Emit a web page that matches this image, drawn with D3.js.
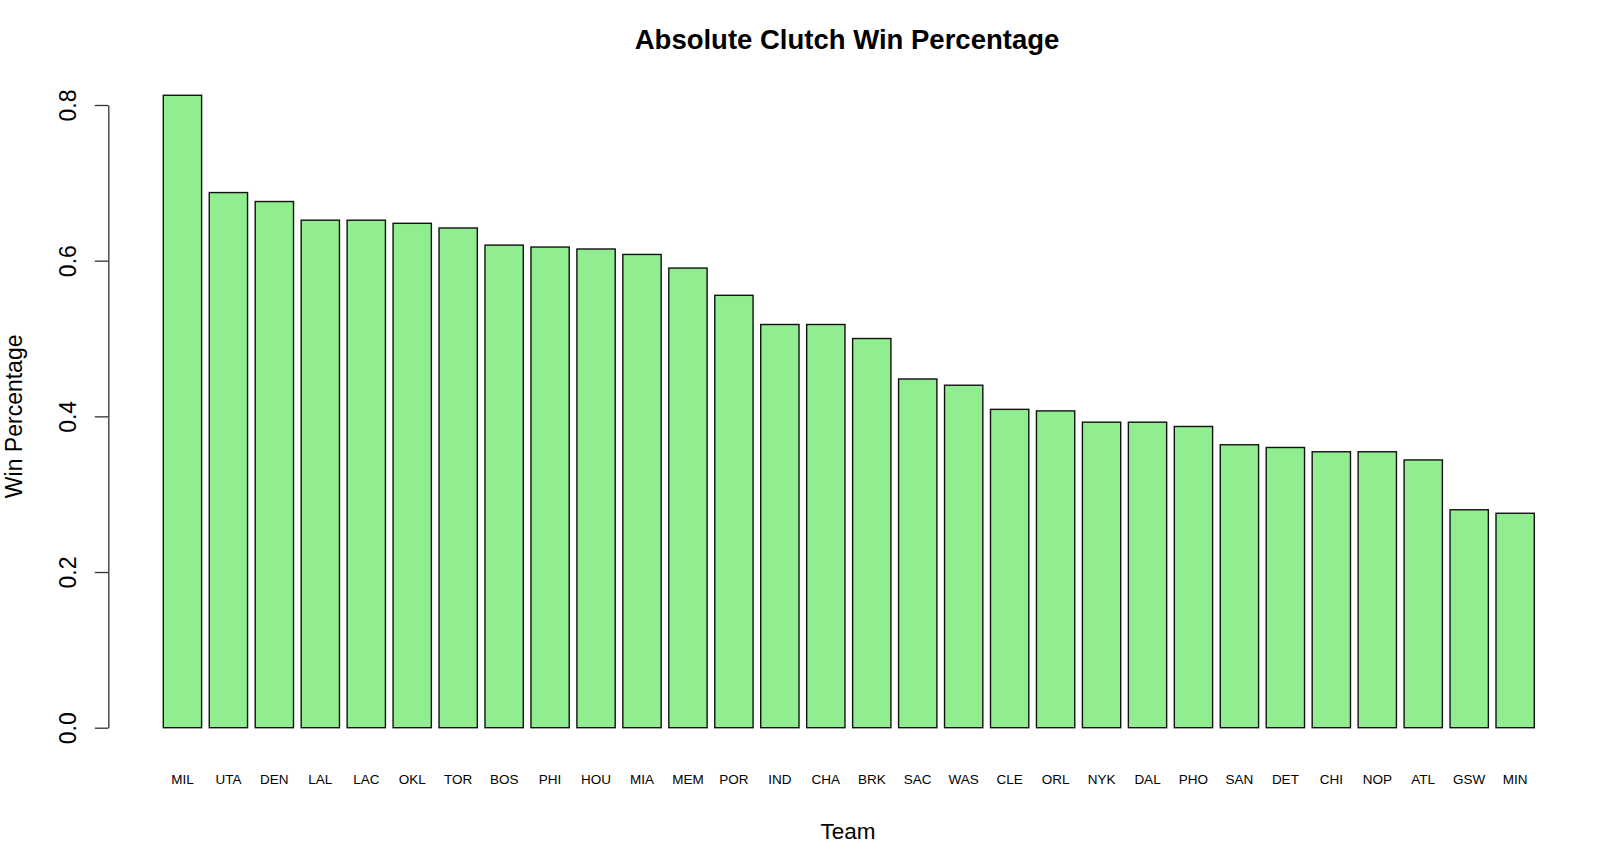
<!DOCTYPE html>
<html>
<head>
    <meta charset="utf-8" />
    <title>Absolute Clutch Win Percentage</title>
    <style>
        body { margin: 0; background: #fff; }
        svg text { font-family: "Liberation Sans", Arial, sans-serif; fill: #000; }
    </style>
</head>
<body>
    <script src="https://cdn.jsdelivr.net/npm/d3@7"></script>
    <script>
        let teams = ['MIL', 'UTA', 'DEN', 'LAL', 'LAC', 'OKL', 'TOR', 'BOS', 'PHI', 'HOU',
                     'MIA', 'MEM', 'POR', 'IND', 'CHA', 'BRK', 'SAC', 'WAS', 'CLE', 'ORL',
                     'NYK', 'DAL', 'PHO', 'SAN', 'DET', 'CHI', 'NOP', 'ATL', 'GSW', 'MIN']

        let winPct = [0.8125, 0.6875, 0.676, 0.652, 0.652, 0.648, 0.642, 0.620, 0.6175, 0.615,
                      0.608, 0.5905, 0.5555, 0.518, 0.518, 0.500, 0.448, 0.440, 0.409, 0.407,
                      0.3925, 0.3925, 0.387, 0.3635, 0.360, 0.3545, 0.3545, 0.344, 0.280, 0.2755]

        let yTicks = [0.0, 0.2, 0.4, 0.6, 0.8]

        let width = 1600,
            height = 862

        let svg = d3.select('body')
                    .append('svg')
                    .attr('width', width)
                    .attr('height', height)

        let x = d3.scaleBand()
                    .domain(teams)
                    .range([163.3, 1534.3])
                    .paddingInner(1 / 6)
                    .paddingOuter(0)

        let y = d3.scaleLinear()
                    .domain([0, 0.8])
                    .range([727.7, 105])

        // bars
        svg.append('g')
            .selectAll('rect')
            .data(teams)
            .enter()
                .append('rect')
                .attr('x', function (d) { return x(d) })
                .attr('width', x.bandwidth())
                .attr('y', function (d, i) { return y(winPct[i]) })
                .attr('height', function (d, i) { return y(0) - y(winPct[i]) })
                .style('fill', '#90ee90')
                .style('stroke', '#111')
                .style('stroke-width', 1.4)

        // y axis
        let yAxis = d3.axisLeft(y)
                        .tickValues(yTicks)
                        .tickFormat(d3.format('.1f'))
                        .tickSize(13.5)
                        .tickSizeOuter(0)

        let yG = svg.append('g')
                    .attr('transform', 'translate(108.3, 0)')
                    .call(yAxis)

        yG.select('.domain').attr('stroke', '#333').attr('stroke-width', 1.3)
        yG.selectAll('.tick line').attr('stroke', '#333').attr('stroke-width', 1.3)
        yG.selectAll('.tick text')
            .attr('x', null)
            .attr('transform', 'translate(-40.5, 0) rotate(-90)')
            .attr('text-anchor', 'middle')
            .attr('dy', '0.355em')
            .style('font-size', '23px')
            .style('font-family', '"Liberation Sans", Arial, sans-serif')

        // x labels (no axis line, like barplot names)
        svg.append('g')
            .selectAll('text.team')
            .data(teams)
            .enter()
                .append('text')
                .classed('team', true)
                .attr('x', function (d) { return x(d) + x.bandwidth() / 2 })
                .attr('y', 784)
                .attr('text-anchor', 'middle')
                .style('font-size', '13.5px')
                .text(function (d) { return d })

        // title and axis titles
        svg.append('text')
            .attr('x', 847)
            .attr('y', 49)
            .attr('text-anchor', 'middle')
            .style('font-size', '27.5px')
            .style('font-weight', 'bold')
            .text('Absolute Clutch Win Percentage')

        svg.append('text')
            .attr('x', 848)
            .attr('y', 839)
            .attr('text-anchor', 'middle')
            .style('font-size', '22.5px')
            .text('Team')

        svg.append('text')
            .attr('transform', 'translate(22, ' + ((y(0) + y(0.8)) / 2) + ') rotate(-90)')
            .attr('text-anchor', 'middle')
            .style('font-size', '23px')
            .text('Win Percentage')
    </script>
</body>
</html>
